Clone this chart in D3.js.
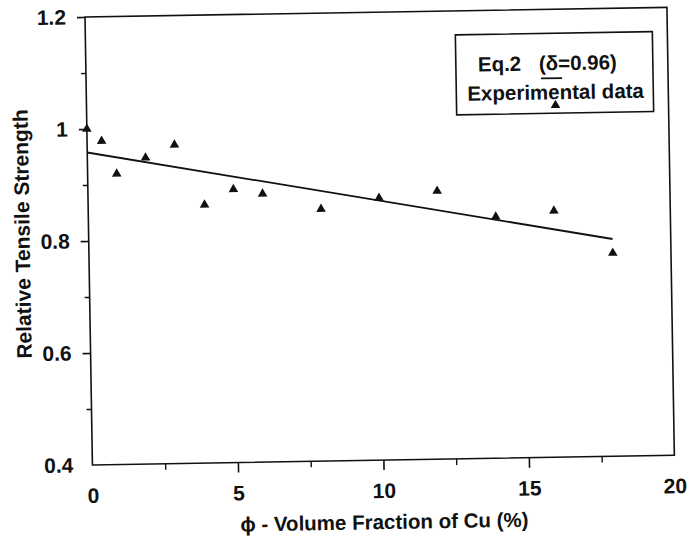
<!DOCTYPE html>
<html>
<head>
<meta charset="utf-8">
<script src="https://cdn.jsdelivr.net/npm/d3@7"></script>
<style>
  html, body { margin: 0; padding: 0; background: #fff; }
  svg { display: block; }
  text { font-family: "Liberation Sans", Arial, Helvetica, sans-serif; fill: #111; }
</style>
</head>
<body>
<svg id="chart" width="690" height="536"></svg>
<script>
// ---- data ----
const phi      = [0, 0.5, 1, 2, 3, 4, 5, 6, 8, 10, 12, 14, 16, 18];
const strength = [1.0, 0.978, 0.919, 0.947, 0.969, 0.861, 0.888, 0.879, 0.850, 0.868, 0.879, 0.831, 0.840, 0.763];
const fitPhi   = [0, 18];
const fitValue = [0.958, 0.788];
const xTickValues = [0, 5, 10, 15, 20];
const xMinorTicks = [2.5, 7.5, 12.5, 17.5];
const yTickValues = [0.4, 0.6, 0.8, 1.0, 1.2];
const yTickLabels = ["0.4", "0.6", "0.8", "1", "1.2"];
const yMinorTicks = [0.5, 0.7, 0.9, 1.1];
const xTitle = "\u03d5 - Volume Fraction of Cu (%)";
const yTitle = "Relative Tensile Strength";
const legendLine = ["Eq.2", "(\u03b4=0.96)"];
const legendMarker = "Experimental data";

// ---- layout ----
const W = 582, H = 448;
const svg = d3.select("#chart");
svg.append("rect").attr("width", 690).attr("height", 536).attr("fill", "#fff");
const g = svg.append("g").attr("transform", "translate(85,17) rotate(-0.95)");

const x = d3.scaleLinear().domain([0, 20]).range([0, W]);
const y = d3.scaleLinear().domain([0.4, 1.2]).range([H, 0]);

const stroke = "#111";

// frame
g.append("rect").attr("x", 0).attr("y", 0).attr("width", W).attr("height", H)
  .attr("fill", "none").attr("stroke", stroke).attr("stroke-width", 1.6);

// y axis (major)
const yAxis = d3.axisLeft(y).tickValues(yTickValues)
  .tickFormat((d, i) => yTickLabels[i]).tickSize(8).tickPadding(11).tickSizeOuter(0);
const ya = g.append("g").call(yAxis);
ya.select(".domain").remove();
ya.selectAll(".tick line").attr("stroke", stroke).attr("stroke-width", 1.6)
  .filter(d => d === 0.4).remove();
ya.selectAll(".tick text").attr("font-size", 21).attr("font-weight", "bold")
  .attr("font-family", "Liberation Sans, Arial, sans-serif").attr("fill", "#111");
// y minor
const yMin = g.append("g").call(d3.axisLeft(y).tickValues(yMinorTicks).tickSize(5).tickFormat(""));
yMin.select(".domain").remove();
yMin.selectAll(".tick line").attr("stroke", stroke).attr("stroke-width", 1.4);

// x axis (major)
const xAxis = d3.axisBottom(x).tickValues(xTickValues).tickSize(10).tickPadding(13).tickSizeOuter(0);
const xa = g.append("g").attr("transform", `translate(0,${H})`).call(xAxis);
xa.select(".domain").remove();
xa.selectAll(".tick line").attr("stroke", stroke).attr("stroke-width", 1.6)
  .filter(d => d === 0 || d === 20).remove();
xa.selectAll(".tick text").attr("font-size", 21).attr("font-weight", "bold")
  .attr("font-family", "Liberation Sans, Arial, sans-serif").attr("fill", "#111");
const xMin = g.append("g").attr("transform", `translate(0,${H})`)
  .call(d3.axisBottom(x).tickValues(xMinorTicks).tickSize(6).tickFormat(""));
xMin.select(".domain").remove();
xMin.selectAll(".tick line").attr("stroke", stroke).attr("stroke-width", 1.4);

// axis titles
g.append("text").attr("x", W / 2).attr("y", H + 69).attr("text-anchor", "middle")
  .attr("font-size", 20.5).attr("font-weight", "bold").text(xTitle);
g.append("text").attr("transform", `translate(-59,${H / 2 - 8}) rotate(-90)`)
  .attr("text-anchor", "middle").attr("font-size", 21).attr("font-weight", "bold").text(yTitle);

// fit line
const line = d3.line().x(d => x(d[0])).y(d => y(d[1]));
g.append("path").datum(d3.zip(fitPhi, fitValue)).attr("d", line)
  .attr("fill", "none").attr("stroke", stroke).attr("stroke-width", 1.8);

// points
const tri = d3.symbol().type(d3.symbolTriangle).size(40);
g.append("g").selectAll("path").data(d3.zip(phi, strength)).join("path")
  .attr("transform", d => `translate(${x(d[0])},${y(d[1])})`)
  .attr("d", tri).attr("fill", "#111");

// legend
const lg = g.append("g").attr("transform", "translate(370,24)");
lg.append("rect").attr("x", 0).attr("y", 0).attr("width", 197).attr("height", 80)
  .attr("fill", "#fff").attr("stroke", stroke).attr("stroke-width", 1.6);
lg.append("text").attr("x", 22).attr("y", 37).attr("font-size", 20.5).attr("font-weight", "bold").text(legendLine[0]);
lg.append("text").attr("x", 83).attr("y", 37).attr("font-size", 20.5).attr("font-weight", "bold").text(legendLine[1]);
lg.append("line").attr("x1", 85).attr("x2", 106).attr("y1", 45).attr("y2", 45)
  .attr("stroke", stroke).attr("stroke-width", 1.8);
lg.append("text").attr("x", 11).attr("y", 66).attr("font-size", 20.5).attr("font-weight", "bold").text(legendMarker);
lg.append("path").attr("transform", "translate(99,72)").attr("d", tri).attr("fill", "#111");
</script>
</body>
</html>
